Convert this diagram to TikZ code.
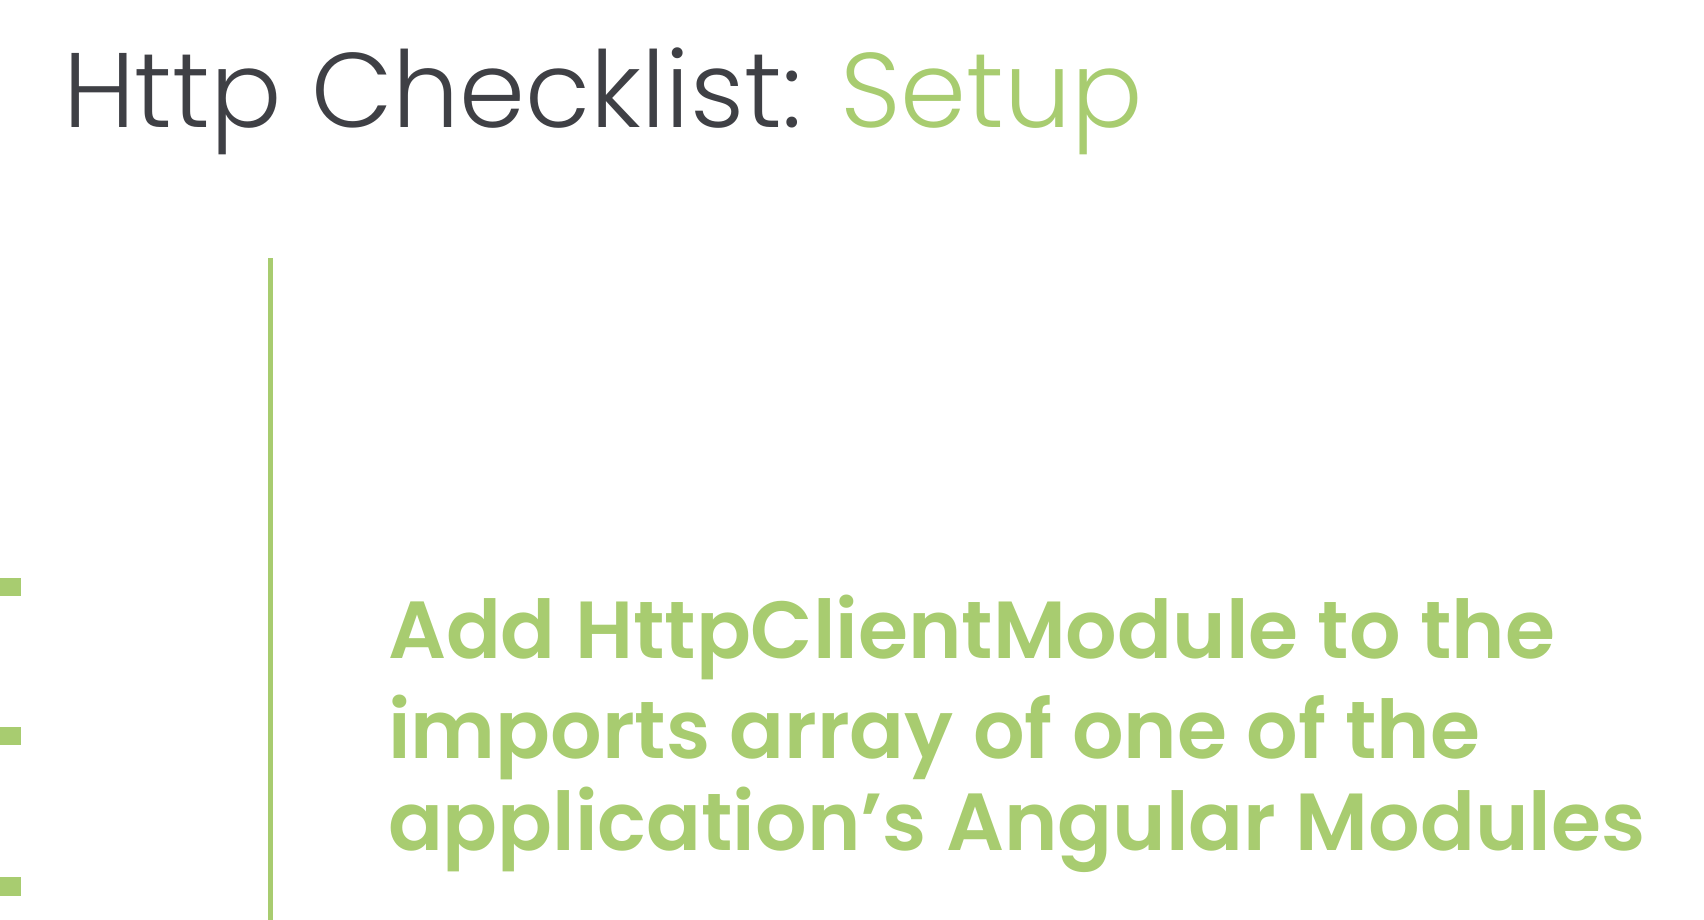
\documentclass[tikz,border=0pt]{standalone}
\usepackage{fontspec}
\setmainfont{Poppins}[UprightFont=* Light, BoldFont=* SemiBold]
\usepackage{tikz}
\usetikzlibrary{positioning}
\definecolor{slidegreen}{HTML}{A8CC70}
\definecolor{slidegray}{HTML}{3F4045}

\begin{document}
\begin{tikzpicture}[x=1pt, y=-1pt, inner sep=0pt, outer sep=0pt]
   \useasboundingbox (0,0) rectangle (1704,920);
   % title
   \node (title) [anchor=base west, text=slidegray, font=\fontsize{106}{120}\selectfont] at (63,128) {Http Checklist: \textcolor{slidegreen}{Setup}};
   % left marks and divider
   \begin{scope}[fill=slidegreen]
    \fill (0,578) rectangle (21,596);
    \fill (0,727) rectangle (21,745);
    \fill (0,877) rectangle (21,896);
   \end{scope}
   \coordinate (top) at (270,258);
   \coordinate (bot) at (270,920);
   \draw [slidegreen, line width=5pt] (top) -- (bot);
   % body
   \begin{scope}[every node/.style={anchor=base west, text=slidegreen, font=\fontsize{81}{95}\selectfont\bfseries}]
    \node (l1) at (388,658) {Add HttpClientModule to the};
    \node (l2) at (388,758) {imports array of one of the};
    \node (l3) at (388,850) {application's Angular Modules};
   \end{scope}
\end{tikzpicture}
\end{document}
